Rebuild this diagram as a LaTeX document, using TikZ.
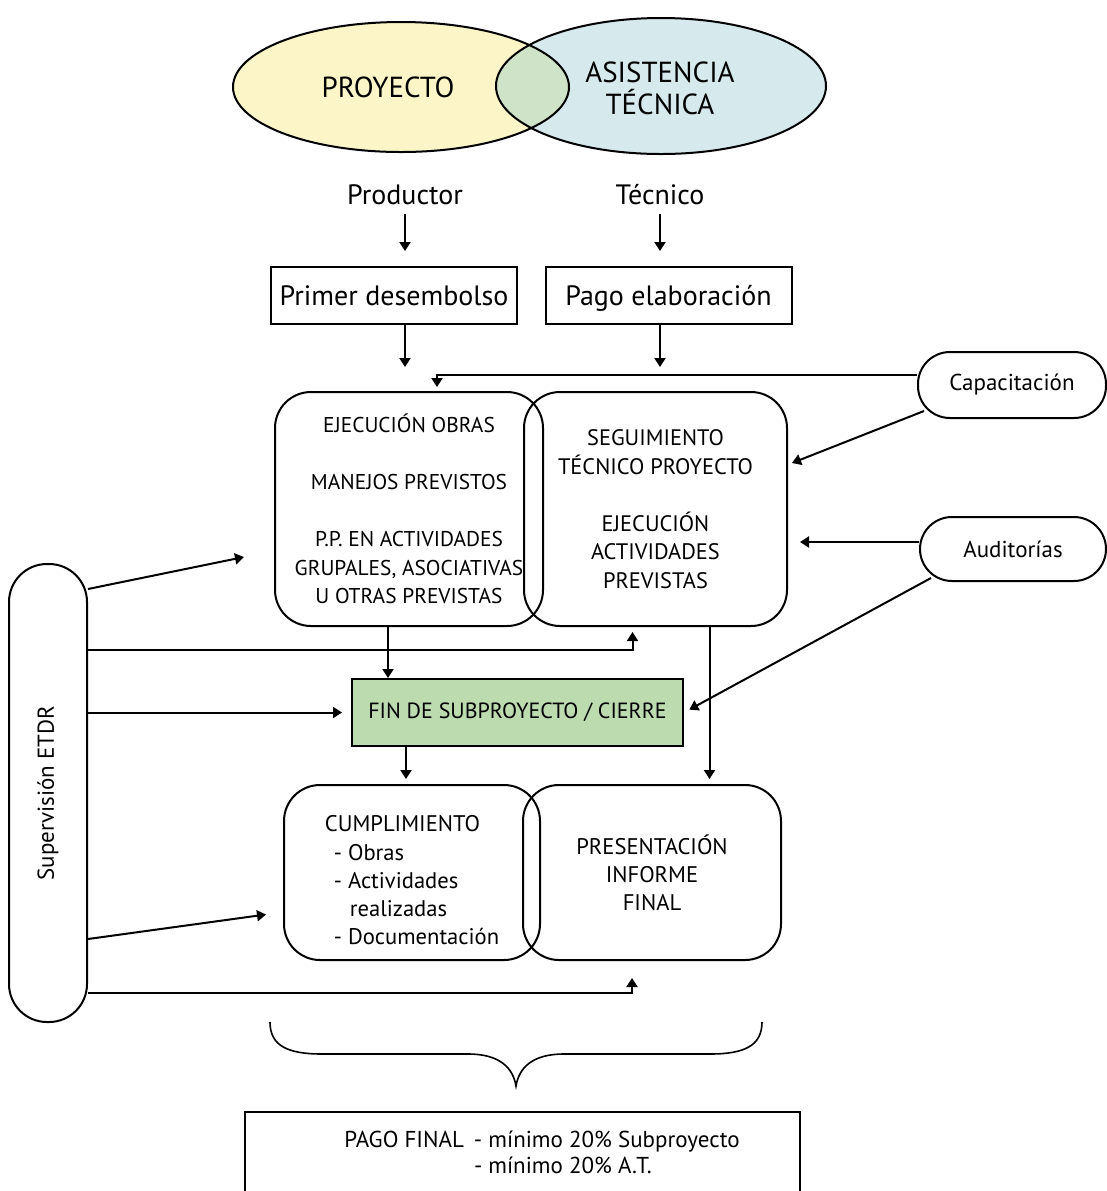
\documentclass[tikz,border=0pt]{standalone}
\usepackage{fontspec}
\setmainfont{PT Sans}
\usetikzlibrary{arrows.meta}

\definecolor{ProyYellow}{RGB}{251,245,200}
\definecolor{AsisBlue}{RGB}{214,233,236}
\definecolor{MixGreen}{RGB}{207,227,200}
\definecolor{FinGreen}{RGB}{188,219,175}

\begin{document}
\begin{tikzpicture}[
        % Environment Config
        x=0.5pt, y=-0.5pt,
        line width=1pt,
        font=\fontsize{11}{14.25}\selectfont,
        MyArrow/.style={% Style for the connectors
          -{Triangle[length=4.5pt,width=5.5pt]},
          line width=1pt
        },
        BigText/.style={% Style for the titles
          font=\fontsize{14}{16}\selectfont,
          inner sep=0pt
        },
        PayBox/.style={% Style for the payment boxes
          draw,
          BigText,
          text height=11.5pt,
          text depth=2pt,
          minimum width=123pt,
          minimum height=28.5pt
        },
        RoundBox/.style={% Style for the rounded boxes
          draw,
          rounded corners=18pt,
          align=center,
          inner sep=0pt,
          minimum height=117pt
        },
        Pill/.style={% Style for the side pills
          draw,
          rounded corners=16pt,
          font=\fontsize{11.5}{14}\selectfont,
          inner sep=0pt
        }
      ]

      \useasboundingbox (0,0) rectangle (1107,1191);

      %===Ellipses===
      \fill[ProyYellow] (401,87) ellipse [x radius=84pt, y radius=32.5pt];
      \fill[AsisBlue] (661,86) ellipse [x radius=82.5pt, y radius=34pt];
      \begin{scope}
        \clip (401,87) ellipse [x radius=84pt, y radius=32.5pt];
        \fill[MixGreen] (661,86) ellipse [x radius=82.5pt, y radius=34pt];
      \end{scope}
      \draw (401,87) ellipse [x radius=84pt, y radius=32.5pt];
      \draw (661,86) ellipse [x radius=82.5pt, y radius=34pt];
      \draw(388,87) node[BigText,font=\fontsize{14.5}{16}\selectfont](Proy){PROYECTO};
      \draw(660,88) node[BigText,font=\fontsize{14.5}{16}\selectfont,align=center](Asis){ASISTENCIA\\TÉCNICA};

      % Put the boxes in position
      \draw(405,195) node[BigText](Prod){Productor};
      \draw(660,195) node[BigText](Tec){Técnico};
      \draw(394,295.5) node[PayBox](PD){Primer desembolso};
      \draw(668.5,295.5) node[PayBox](PE){Pago elaboración};
      \draw(407,509) node[RoundBox,minimum width=134pt,xshift=1pt,
        font=\fontsize{10.7}{14.25}\selectfont](EO){EJECUCIÓN OBRAS\\[14.25pt]
        MANEJOS PREVISTOS\\[14.25pt]
        P.P. EN ACTIVIDADES\\ GRUPALES, ASOCIATIVAS\\ U OTRAS PREVISTAS};
      \draw(655.5,509) node[RoundBox,minimum width=131.5pt,
        font=\fontsize{11.2}{14.25}\selectfont](SE){SEGUIMIENTO\\ TÉCNICO PROYECTO\\[14.25pt]
        EJECUCIÓN\\ ACTIVIDADES\\ PREVISTAS};
      \draw(1012,385) node[Pill,minimum width=94pt,minimum height=33pt](Cap){Capacitación};
      \draw(1013,549) node[Pill,minimum width=93pt,minimum height=32pt](Aud){Auditorías};
      \draw(48,793) node[Pill,rounded corners=19pt,minimum width=39pt,minimum height=229pt](Sup){\rotatebox{90}{Supervisión ETDR}};
      \draw(517.5,712.5) node[draw,fill=FinGreen,minimum width=165.5pt,minimum height=33.5pt,
        font=\fontsize{11}{14}\selectfont](Fin){FIN DE SUBPROYECTO / CIERRE};
      \draw(412,872.5) node[RoundBox,minimum width=128pt,minimum height=87.5pt,align=left,
        font=\fontsize{11.3}{14.1}\selectfont](CU){\rule{0pt}{16pt}CUMPLIMIENTO\\
        \hspace*{4.5pt}- Obras\\
        \hspace*{4.5pt}- Actividades\\
        \hspace*{12.5pt}realizadas\\
        \hspace*{4.5pt}- Documentación};
      \draw(652,872.5) node[RoundBox,minimum width=129pt,minimum height=87.5pt,
        font=\fontsize{11.3}{14.1}\selectfont](PR){PRESENTACIÓN\\ INFORME\\ FINAL};
      \draw(522.5,1156) node[draw,minimum width=277.5pt,minimum height=44pt](PF){};
      \draw(542,1155) node[inner sep=0pt,font=\fontsize{11.5}{13}\selectfont](PFText){%
        \begin{tabular}{@{}l@{\hspace{5pt}}l@{}}
          PAGO FINAL & - mínimo 20\% Subproyecto\\
                     & - mínimo 20\% A.T.
        \end{tabular}};

      %===Brace===
      \draw[line width=0.8pt] (270,1022)
          .. controls (270,1046) and (288,1054) .. (322,1054)
          -- (468,1054)
          .. controls (500,1054) and (513,1068) .. (516,1086)
          .. controls (519,1068) and (532,1054) .. (564,1054)
          -- (710,1054)
          .. controls (744,1054) and (762,1046) .. (762,1022);

      % Draw the connectors
      %===Top===
      \draw[MyArrow,shorten <=4pt,shorten >=7.5pt] (Prod.south) -- (Prod.south |- PD.north);
      \draw[MyArrow,shorten <=4pt,shorten >=7.5pt] (Tec.south) -- (Tec.south |- PE.north);
      \draw[MyArrow,shorten >=12pt] (Prod |- PD.south) -- (Prod |- EO.north);
      \draw[MyArrow,shorten >=12pt] (Tec |- PE.south) -- (Tec |- SE.north);

      %===Capacitacion===
      \draw[MyArrow,shorten >=2pt] ([yshift=5pt]Cap.west) -| ([xshift=14pt]EO.north);
      \draw[MyArrow] ([shift={(3.5pt,4pt)}]Cap.south west) -- ([shift={(2pt,23pt)}]SE.east);

      %===Auditorias===
      \draw[MyArrow,shorten >=6pt] ([yshift=3.5pt]Aud.west) -- ([yshift=3.5pt]Aud.west -| SE.east);
      \draw[MyArrow,shorten >=3pt] ([shift={(6pt,2pt)}]Aud.south west) -- (Fin.east);

      %===Supervision===
      \draw[MyArrow] ([yshift=-13pt]Sup.north east) -- ([shift={(-15pt,-24pt)}]EO.west);
      \draw[MyArrow,shorten >=2.5pt] ([yshift=-43.5pt]Sup.north east) -| ([xshift=-11.5pt]SE.south);
      \draw[MyArrow,shorten >=4.5pt] (Sup.east |- Fin.west) -- (Fin.west);
      \draw[MyArrow] ([yshift=42pt]Sup.south east) -- ([shift={(-8.5pt,-21pt)}]CU.west);
      \draw[MyArrow,shorten >=8.5pt] ([yshift=15pt]Sup.south east) -| ([xshift=-10pt]PR.south);

      %===Middle===
      \draw[MyArrow] ([xshift=-10.5pt]EO.south) -- ([xshift=-10.5pt]EO.south |- Fin.north);
      \draw[MyArrow,shorten >=2.5pt] ([xshift=-3pt]CU.north |- Fin.south) -- ([xshift=-3pt]CU.north);
      \draw[MyArrow,shorten >=2.5pt] ([xshift=27pt]SE.south) -- ([xshift=27pt]SE.south |- PR.north);

      \end{tikzpicture}
\end{document}
